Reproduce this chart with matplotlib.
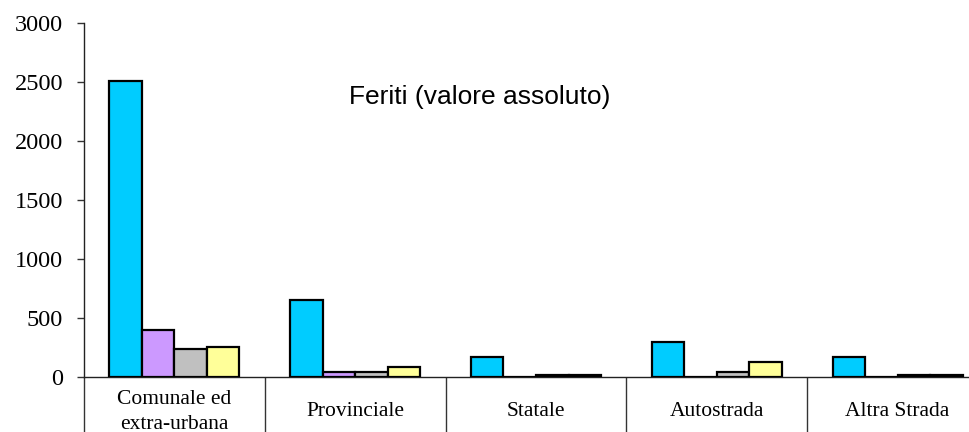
import matplotlib
matplotlib.use("Agg")
import matplotlib.pyplot as plt
import numpy as np

categories = ["Comunale ed\nextra-urbana", "Provinciale", "Statale", "Autostrada", "Altra Strada"]
series_a = [2510, 655, 170, 295, 170]   # cyan
series_b = [400, 40, 0, 0, 0]           # purple
series_c = [237, 40, 15, 40, 15]        # gray
series_d = [254, 85, 15, 127, 15]       # yellow
colors = ["#00CCFF", "#CC99FF", "#C0C0C0", "#FFFF99"]
yticks = [0, 500, 1000, 1500, 2000, 2500, 3000]
title = "Feriti (valore assoluto)"

W, H = 969, 432
fig = plt.figure(figsize=(W / 100, H / 100), dpi=100)
ax = fig.add_axes([84 / W, (H - 377) / H, (988 - 84) / W, (377 - 23) / H])

x = np.arange(len(categories)) + 0.5
bw = 0.18
for i, (vals, c) in enumerate(zip([series_a, series_b, series_c, series_d], colors)):
    ax.bar(x + (i - 1.5) * bw, vals, width=bw, color=c, edgecolor="black", linewidth=1.6, zorder=3)

ax.set_xlim(0, len(categories))
ax.set_ylim(0, 3000)
ax.set_yticks(yticks)
ax.set_yticklabels([str(v) for v in yticks], fontfamily="Liberation Serif", fontsize=17.5)
ax.tick_params(axis="y", length=5, width=1, pad=10, color="#333333")

ax.set_xticks(x)
ax.set_xticklabels(categories, fontfamily="Liberation Serif", fontsize=15.5, linespacing=1.4)
for lbl in ax.get_xticklabels():
    lbl.set_verticalalignment("center")
ax.tick_params(axis="x", which="major", length=0, pad=25)
ax.set_xticks(np.arange(len(categories) + 1), minor=True)
ax.tick_params(axis="x", which="minor", length=60, width=1, color="#333333", direction="out")

for s in ["top", "right"]:
    ax.spines[s].set_visible(False)
ax.spines["left"].set_color("#222222")
ax.spines["bottom"].set_color("#222222")
ax.spines["left"].set_linewidth(1)
ax.spines["bottom"].set_linewidth(1)

fig.text(480 / W, 1 - 97 / H, title, fontfamily="Liberation Sans", fontsize=19, ha="center", va="center")

fig.savefig("out.png", dpi=100)
